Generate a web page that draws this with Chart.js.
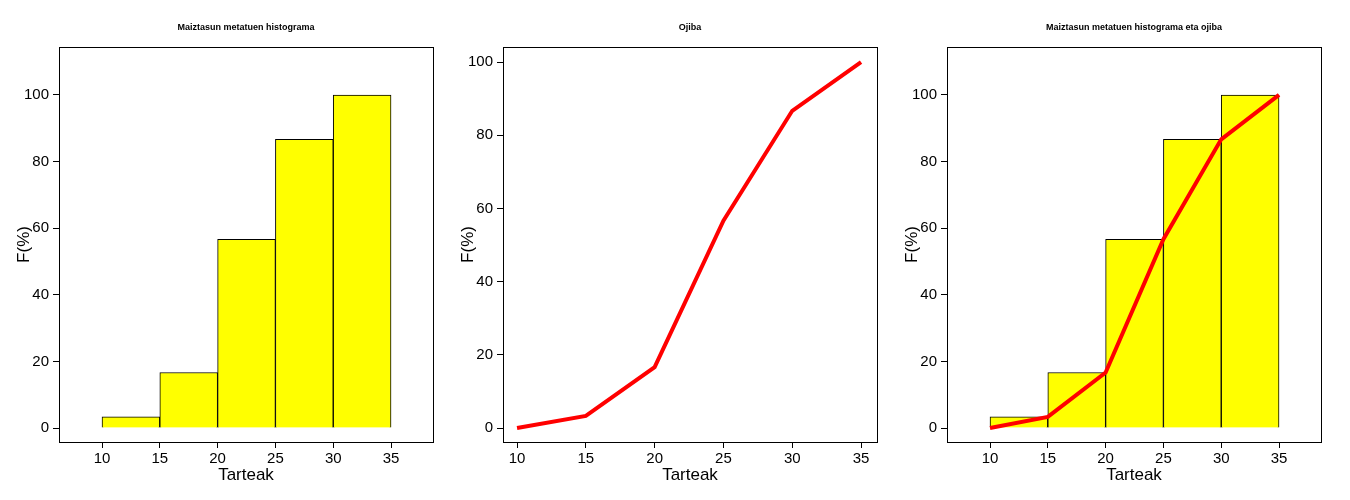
<!DOCTYPE html>
<html><head><meta charset="utf-8">
<script src="https://cdn.jsdelivr.net/npm/chart.js@4/dist/chart.umd.min.js"></script>
<style>body{margin:0;background:#fff;width:1350px;height:500px;position:relative;overflow:hidden}
.p{position:absolute;top:0;width:450px;height:500px}</style></head><body>
<div class="p" style="left:0"><canvas id="c1" width="450" height="500"></canvas></div>
<div class="p" style="left:444px"><canvas id="c2" width="450" height="500"></canvas></div>
<div class="p" style="left:888px"><canvas id="c3" width="450" height="500"></canvas></div>
<script>
const mids=[12.5,17.5,22.5,27.5,32.5];
const freq=[3.33,16.67,56.67,86.67,100];
const bounds=[10,15,20,25,30,35];
const ogive=[0,3.33,16.67,56.67,86.67,100];
const yTicks=[0,20,40,60,80,100];
const titles=["Maiztasun metatuen histograma","Ojiba","Maiztasun metatuen histograma eta ojiba"];
const FONT="'Liberation Sans', Arial, sans-serif";
function mk(id,title,showBars,showLine,xr,yr){
  const ds=[];
  if(showLine) ds.push({type:'line',data:bounds.map((x,i)=>({x,y:ogive[i]})),borderColor:'#ff0000',borderWidth:4,pointRadius:0,tension:0,order:0});
  if(showBars) ds.push({type:'bar',data:mids.map((x,i)=>({x,y:freq[i]})),backgroundColor:'#ffff00',borderColor:'#000',borderWidth:1,barPercentage:1,categoryPercentage:1,order:1});
  new Chart(document.getElementById(id),{type:'bar',data:{datasets:ds},
  options:{responsive:false,animation:false,devicePixelRatio:1,layout:{padding:{top:47,right:17,left:0,bottom:0}},
   plugins:{legend:{display:false},tooltip:{enabled:false}},
   scales:{
    x:{type:'linear',offset:false,min:xr[0],max:xr[1],afterBuildTicks:s=>{s.ticks=bounds.map(v=>({value:v}))},afterFit:s=>{s.height=58},
      grid:{display:true,offset:false,drawOnChartArea:false,color:'#000',tickLength:6},border:{display:false},
      ticks:{color:'#000',font:{family:FONT,size:15},padding:2,maxRotation:0,autoSkip:false},
      title:{display:true,text:'Tarteak',color:'#000',font:{family:FONT,size:17},padding:{top:0,bottom:14}}},
    y:{type:'linear',min:yr[0],max:yr[1],afterBuildTicks:s=>{s.ticks=yTicks.map(v=>({value:v}))},afterFit:s=>{s.width=59},
      grid:{display:true,drawOnChartArea:false,color:'#000',tickLength:6},border:{display:false},
      ticks:{color:'#000',font:{family:FONT,size:15},padding:4,autoSkip:false},
      title:{display:true,text:'F(%)',color:'#000',font:{family:FONT,size:17},padding:{top:14,bottom:0}}}
   }},
  plugins:[{id:'box',afterDraw(c){const a=c.chartArea,x=c.ctx;x.save();x.strokeStyle='#000';x.lineWidth=1;
    x.strokeRect(a.left+0.5,a.top+0.5,a.right-a.left,a.bottom-a.top);
    x.fillStyle='#000';x.font='bold 9px '+FONT;x.textAlign='center';x.textBaseline='middle';
    x.fillText(title,(a.left+a.right)/2,28);x.restore();}}]
  });
}
mk('c1',titles[0],true,false,[6.28,38.63],[-4.2,114.4]);
mk('c2',titles[1],false,true,[8.98,36.16],[-3.8,104.1]);
mk('c3',titles[2],true,true,[6.28,38.63],[-4.2,114.4]);
</script></body></html>
